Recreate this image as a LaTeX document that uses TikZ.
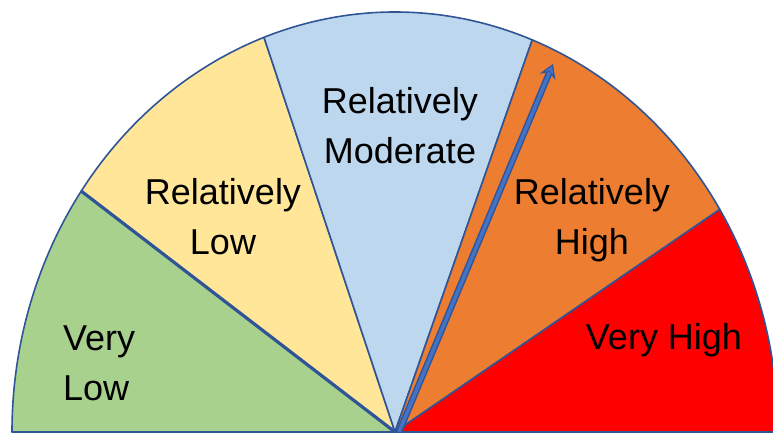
\documentclass[tikz,border=0pt]{standalone}
\usepackage{fontspec}
\setmainfont{Liberation Sans}
\usepackage{tikz}
\usetikzlibrary{arrows.meta}
\definecolor{GaugeEdge}{HTML}{2F5597}
\definecolor{GaugeGreen}{HTML}{A9D18E}
\definecolor{GaugeYellow}{HTML}{FFE699}
\definecolor{GaugeBlue}{HTML}{BDD7EE}
\definecolor{GaugeOrange}{HTML}{ED7D31}
\definecolor{GaugeRed}{HTML}{FF0000}
\definecolor{GaugeNeedle}{HTML}{4472C4}

\begin{document}
\begin{tikzpicture}[
  x=1pt,y=1pt,
  slice/.style={draw=GaugeEdge,line width=1.6pt,line join=round},
  band/.style={font=\fontsize{36}{50}\selectfont,align=center,anchor=base,inner sep=0pt},
  needleedge/.style={draw=GaugeEdge,line width=6.5pt,
    -{Stealth[length=14pt,width=17pt,inset=5pt,line width=1.2pt,fill=GaugeNeedle]}},
  needlecore/.style={draw=GaugeNeedle,line width=3.5pt,shorten >=9pt}
]
\useasboundingbox (-395,-1) rectangle (378,432);
\coordinate (hub) at (0,0);

% dial slices
\foreach \from/\to/\col in {180/145/GaugeGreen,145/110/GaugeYellow,110/69/GaugeBlue,69/32/GaugeOrange,32/0/GaugeRed}{
  \filldraw[slice,fill=\col] (hub) -- (\from:383pt and 420pt)
    arc[start angle=\from,end angle=\to,x radius=383pt,y radius=420pt] -- cycle;
}
\draw[slice,line width=3.2pt] (hub) -- (145:383pt and 420pt);

% band labels (base = last line)
\node[band,anchor=base west,align=left] (verylow) at (-332,31) {Very\\Low};
\node[band] (low) at (-172,177) {Relatively\\Low};
\node[band] (moderate) at (5,268) {Relatively\\Moderate};
\node[band] (high) at (197,177) {Relatively\\High};
\node[band] (veryhigh) at (269,82) {Very High};

% needle
\coordinate (base) at (4,0);
\coordinate (tip) at (158,368);
\draw[needleedge] (base) -- (tip);
\draw[needlecore] (base) -- (tip);
\end{tikzpicture}
\end{document}
